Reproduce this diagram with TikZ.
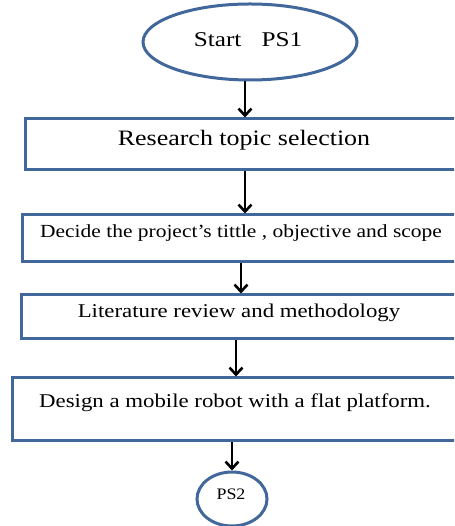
\documentclass[tikz,border=0pt]{standalone}
\usepackage{fontspec}
\setmainfont{Liberation Serif}
\usepackage{graphicx}
\usetikzlibrary{arrows.meta,shapes.geometric}
\definecolor{edgeblue}{HTML}{41679B}
\tikzset{
  stepbox/.style={draw=edgeblue, line width=3pt, rectangle, inner sep=0pt},
  term/.style={draw=edgeblue, line width=3pt, ellipse, inner sep=0pt},
  flow/.style={draw=black, line width=2.6pt, -{Straight Barb[length=7pt,width=13pt,line width=2.6pt]}},
  txt/.style={inner sep=0pt, anchor=center, text=black}
}
\newcommand{\wide}[2]{\scalebox{#1}[1]{#2}}
\begin{document}
\begin{tikzpicture}[x=1pt,y=1pt]
\useasboundingbox (0,0) rectangle (454,526);
\clip (0,0) rectangle (454,526);
% terminals
\node[term, minimum width=214pt, minimum height=76pt] (start) at (250,484) {};
\node[txt, font=\fontsize{21}{25}\selectfont] (starttxt) at (248,486) {\wide{1.2}{Start\hspace{0.8em}PS1}};
\node[term, minimum width=70pt, minimum height=54pt] (ps2) at (232,27) {};
\node[txt, font=\fontsize{16}{19}\selectfont] (ps2txt) at (231,32) {\wide{1.12}{PS2}};
% process boxes (right edges run past the page)
\node[stepbox, minimum width=445pt, minimum height=51pt] (b1) at (247.5,381.5) {};
\node[txt, font=\fontsize{22}{26}\selectfont] (t1) at (244,386) {\wide{1.18}{Research topic selection}};
\node[stepbox, minimum width=448pt, minimum height=47pt] (b2) at (246,287.5) {};
\node[txt, font=\fontsize{18.5}{22}\selectfont] (t2) at (241,293) {\wide{1.16}{Decide the project’s tittle , objective and scope}};
\node[stepbox, minimum width=449pt, minimum height=44pt] (b3) at (245.5,209) {};
\node[txt, font=\fontsize{19.5}{23}\selectfont] (t3) at (239,213) {\wide{1.17}{Literature review and methodology}};
\node[stepbox, minimum width=458pt, minimum height=63pt] (b4) at (241,116.5) {};
\node[txt, font=\fontsize{19.5}{23}\selectfont] (t4) at (235,123) {\wide{1.17}{Design a mobile robot with a flat platform.}};
% connectors
\draw[flow] (start.south -| 245,0) -- (b1.north -| 245,0);
\draw[flow] (b1.south -| 245,0) -- (b2.north -| 245,0);
\draw[flow] (b2.south -| 241,0) -- (b3.north -| 241,0);
\draw[flow] (b3.south -| 236,0) -- (b4.north -| 236,0);
\draw[flow] (b4.south -| 232,0) -- (ps2.north);
\end{tikzpicture}
\end{document}
